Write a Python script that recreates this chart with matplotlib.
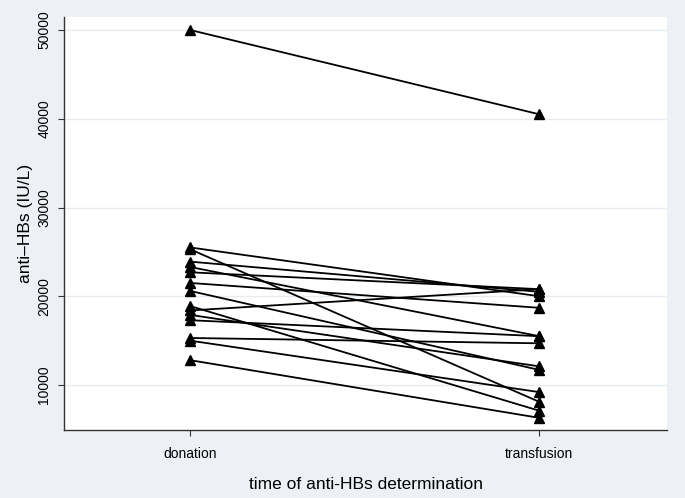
import numpy as np
import matplotlib.pyplot as plt

plt.rcParams['font.family'] = ['Liberation Sans', 'DejaVu Sans']

# anti-HBs values, one pair per donor (donation -> transfusion)
donation = [50000, 25500, 25300, 23900, 22700, 21500, 23300, 18400,
            20600, 17300, 17900, 15300, 18900, 15000, 12800]
transfusion = [40500, 20000, 8100, 20500, 20800, 18700, 15500, 20800,
               11700, 15500, 12100, 14700, 7100, 9200, 6300]
times = ['donation', 'transfusion']
yticks = [10000, 20000, 30000, 40000, 50000]

bg = '#edf1f5'
fig = plt.figure(figsize=(6.85, 4.98), dpi=100, facecolor=bg)
ax = fig.add_axes([0.0934, 0.1365, 0.8806, 0.8295])
ax.set_facecolor('white')

xpos = np.arange(1, len(times) + 1)
for d, t in zip(donation, transfusion):
    ax.plot(xpos, [d, t], color='black', lw=1.3, marker='^', ms=7,
            mec='black', mfc='black', zorder=3)

ax.set_xlim(0.639, 2.366)
ax.set_ylim(4930, 51470)
ax.set_xticks(xpos)
ax.set_xticklabels(times, fontsize=10)
ax.set_yticks(yticks)
ax.set_yticklabels([str(v) for v in yticks], rotation=90, va='center', fontsize=10)
ax.yaxis.grid(True, color='#e4ebf1', lw=1)
ax.set_axisbelow(True)

for s in ['top', 'right']:
    ax.spines[s].set_visible(False)
for s in ['left', 'bottom']:
    ax.spines[s].set_color('#333333')
    ax.spines[s].set_linewidth(1)
ax.tick_params(axis='x', length=4, width=0.8, color='#333333', pad=8)
ax.tick_params(axis='y', length=4, width=0.8, color='#333333', pad=5)

ax.set_xlabel('time of anti-HBs determination', fontsize=12.5, labelpad=12)
ax.set_ylabel('anti–HBs (IU/L)', fontsize=12.5, labelpad=3)

fig.savefig('out.png', dpi=100, facecolor=bg)
